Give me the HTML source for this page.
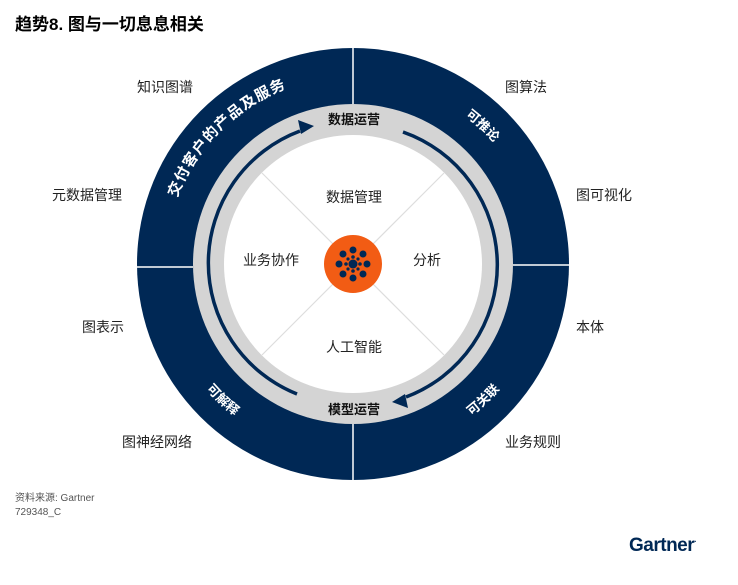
<!DOCTYPE html>
<html><head><meta charset="utf-8"><style>
html,body{margin:0;padding:0;background:#fff;}
body{width:738px;height:585px;overflow:hidden;position:relative;font-family:"Liberation Sans","Noto Sans CJK SC",sans-serif;}
.t{position:absolute;font-size:14px;color:#222;white-space:nowrap;}
</style></head><body>
<div class="t" style="left:15px;top:10px;font-size:17px;font-weight:bold;color:#000;">趋势8. 图与一切息息相关</div>
<svg width="738" height="585" style="position:absolute;left:0;top:0" font-family="Liberation Sans, Noto Sans CJK SC, sans-serif">
<defs>
<path id="p1" d="M 167.9 231.4 A 188 188 0 0 1 320.4 78.9"/>
<path id="p2" d="M 428.1 94.1 A 184 184 0 0 1 517.9 178.3"/>
<path id="p3" d="M 433 439 A 194 194 0 0 0 525 352"/>
<path id="p4" d="M 181 352 A 194 194 0 0 0 273 439"/>
</defs>
<circle cx="353" cy="264" r="216" fill="#002855"/>
<circle cx="353" cy="264" r="160" fill="#d4d4d4"/>
<circle cx="353" cy="264" r="129" fill="#fff"/>
<line x1="353" y1="48" x2="353" y2="104" stroke="#fff" stroke-width="1.5"/>
<line x1="353" y1="424" x2="353" y2="480" stroke="#fff" stroke-width="1.5"/>
<line x1="137" y1="267" x2="193" y2="267" stroke="#fff" stroke-width="1.5"/>
<line x1="513" y1="265" x2="569" y2="265" stroke="#fff" stroke-width="1.5"/>
<g stroke="#ddd" stroke-width="1.2">
<line x1="262" y1="173" x2="444" y2="355"/>
<line x1="444" y1="173" x2="262" y2="355"/>
</g>
<path d="M 297 394 A 141 141 0 0 1 300 131" fill="none" stroke="#002855" stroke-width="3.5"/>
<polygon points="314,126 298,120 301,134" fill="#002855"/>
<path d="M 403 132 A 141 141 0 0 1 406 397" fill="none" stroke="#002855" stroke-width="3.5"/>
<polygon points="392,402 408,408 405,394" fill="#002855"/>
<rect x="320" y="108" width="68" height="22" fill="#d4d4d4"/>
<text x="354" y="124" font-size="13" font-weight="bold" text-anchor="middle" fill="#111">数据运营</text>
<rect x="320" y="398" width="68" height="22" fill="#d4d4d4"/>
<text x="354" y="414" font-size="13" font-weight="bold" text-anchor="middle" fill="#111">模型运营</text>
<text font-size="15" font-weight="bold" fill="#fff" letter-spacing="1"><textPath href="#p1" startOffset="50%" text-anchor="middle">交付客户的产品及服务</textPath></text>
<text font-size="13" font-weight="bold" fill="#fff"><textPath href="#p2" startOffset="50%" text-anchor="middle">可推论</textPath></text>
<text font-size="13" font-weight="bold" fill="#fff"><textPath href="#p3" startOffset="50%" text-anchor="middle">可关联</textPath></text>
<text font-size="13" font-weight="bold" fill="#fff"><textPath href="#p4" startOffset="50%" text-anchor="middle">可解释</textPath></text>
<circle cx="353" cy="264" r="29" fill="#f25c14"/>
<g fill="#002855">
<circle cx="353" cy="264" r="4.5"/>
<circle cx="353" cy="250" r="3.5"/><circle cx="353" cy="278" r="3.5"/>
<circle cx="339" cy="264" r="3.5"/><circle cx="367" cy="264" r="3.5"/>
<circle cx="343" cy="254" r="3.5"/><circle cx="363" cy="254" r="3.5"/>
<circle cx="343" cy="274" r="3.5"/><circle cx="363" cy="274" r="3.5"/>
<circle cx="353" cy="257" r="1.8"/><circle cx="353" cy="271" r="1.8"/>
<circle cx="346" cy="264" r="1.8"/><circle cx="360" cy="264" r="1.8"/>
<circle cx="348" cy="259" r="1.6"/><circle cx="358" cy="259" r="1.6"/>
<circle cx="348" cy="269" r="1.6"/><circle cx="358" cy="269" r="1.6"/>
</g>
</svg>
<div class="t" style="left:137px;top:77px;">知识图谱</div>
<div class="t" style="left:505px;top:77px;">图算法</div>
<div class="t" style="left:52px;top:185px;">元数据管理</div>
<div class="t" style="left:576px;top:185px;">图可视化</div>
<div class="t" style="left:82px;top:317px;">图表示</div>
<div class="t" style="left:576px;top:317px;">本体</div>
<div class="t" style="left:122px;top:432px;">图神经网络</div>
<div class="t" style="left:505px;top:432px;">业务规则</div>
<div class="t" style="left:326px;top:187px;">数据管理</div>
<div class="t" style="left:243px;top:250px;">业务协作</div>
<div class="t" style="left:413px;top:250px;">分析</div>
<div class="t" style="left:326px;top:337px;">人工智能</div>
<div class="t" style="left:15px;top:489px;font-size:10px;color:#555;">资料来源: Gartner</div>
<div class="t" style="left:15px;top:507px;font-size:10px;color:#555;">729348_C</div>
<div class="t" style="left:629px;top:535px;font-size:19px;font-weight:bold;color:#002855;letter-spacing:-0.5px;">Gartner<span style="font-size:8px;vertical-align:top">.</span></div>
</body></html>
